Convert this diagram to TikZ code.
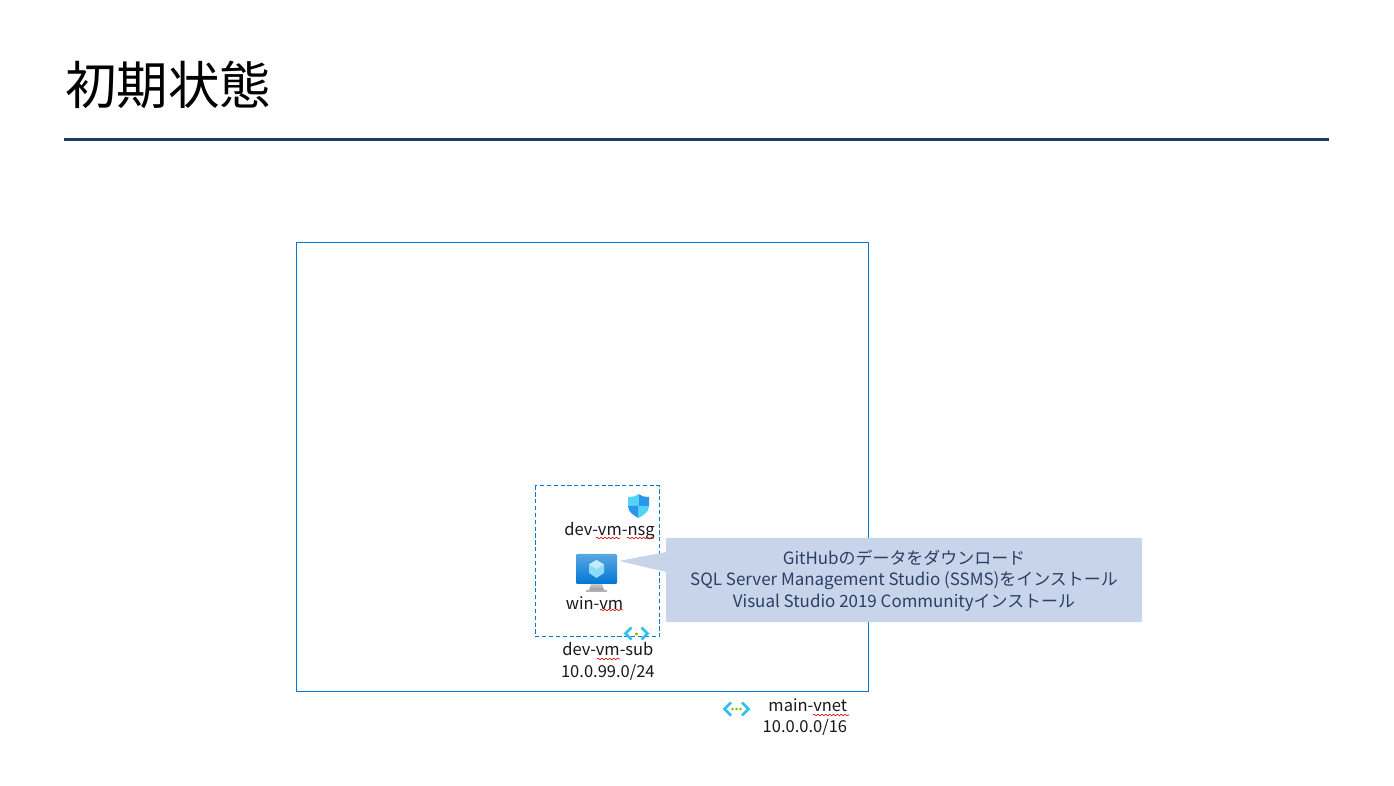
\documentclass[tikz,border=0pt]{standalone}
\usepackage{fontspec}
\setmainfont{Noto Sans CJK JP}
\usetikzlibrary{calc}
\usetikzlibrary{decorations.pathmorphing}
\definecolor{ruleblue}{HTML}{1F3864}
\definecolor{azureblue}{HTML}{0078D4}
\definecolor{calloutfill}{HTML}{C8D4EA}
\definecolor{callouttext}{HTML}{2A3F63}
\definecolor{iconcyan}{HTML}{32BEF0}
\definecolor{shieldlight}{HTML}{50D4FA}
\definecolor{shielddark}{HTML}{2A96EA}
\definecolor{icongreen}{HTML}{7FBA00}
\tikzset{
    label/.style={font=\fontsize{9.4}{12}\selectfont, inner sep=0pt, text=black!90},
    squiggle/.style={red!85!black, line width=0.35pt, decorate, decoration={snake, amplitude=0.45pt, segment length=2.2pt}},
    caret/.style={iconcyan, line width=1.5pt, line cap=butt, line join=miter},
}
\newcommand{\vnetdots}[4]{% center x, center y, half width, half height
    \draw[caret] ({#1-#3+#4}, {#2-#4}) -- ({#1-#3}, #2) -- ({#1-#3+#4}, {#2+#4});
    \draw[caret] ({#1+#3-#4}, {#2-#4}) -- ({#1+#3}, #2) -- ({#1+#3-#4}, {#2+#4});
}
\begin{document}
\begin{tikzpicture}[x=0.02cm, y=-0.02cm, line cap=butt]
    % canvas
    \useasboundingbox (0, 0) rectangle (1394, 786);
    \fill[white] (0, 0) rectangle (1394, 786);

    % title
    \node[anchor=west, inner sep=0pt, font=\fontsize{29.3}{34}\selectfont, text=black] (title) at (65, 85) {初期状態};
    \draw[ruleblue, line width=1.7pt] (64, 139.5) -- (1329, 139.5);

    % frames
    \draw[azureblue, line width=0.6pt] (296.5, 242.5) rectangle (868.5, 691.5);
    \draw[azureblue, line width=0.6pt, dash pattern=on 2.4pt off 1.5pt] (535.5, 485.5) rectangle (659.5, 636.5);

    % callout
    \node[fill=calloutfill, minimum width=476*0.02cm, minimum height=84*0.02cm, inner sep=0pt] (note) at (904, 580) {};
    \coordinate (tip) at (619, 561);
    \fill[calloutfill] (tip) -- (666.5, 552) -- (666.5, 572) -- cycle;
    \node[font=\fontsize{9.65}{12.2}\selectfont, align=center, text=callouttext, inner sep=0pt] (notetext) at (904, 580.7)
        {GitHubのデータをダウンロード\\SQL Server Management Studio (SSMS)をインストール\\Visual Studio 2019 Communityインストール};

    % nsg icon
    \fill[shieldlight] (628, 497) .. controls (631, 497) and (635, 497) .. (638.5, 494) -- (638.5, 506) -- (628, 506) -- cycle;
    \fill[shielddark] (638.5, 494) .. controls (643, 497) and (646, 497) .. (649, 497) -- (649, 506) -- (638.5, 506) -- cycle;
    \fill[shielddark] (628, 506) .. controls (628, 512) and (633, 515) .. (638.5, 518) -- (638.5, 506) -- cycle;
    \fill[shieldlight] (649, 506) .. controls (649, 512) and (644, 515) .. (638.5, 518) -- (638.5, 506) -- cycle;

    % vm icon
    \shade[top color=black!20, bottom color=black!40] (591, 584) -- (602, 584) -- (604, 590) -- (589, 590) -- cycle;
    \fill[black!30] (586, 590) rectangle (607, 592);
    \shade[top color=azureblue!65!white, bottom color=azureblue, rounded corners=0.6pt] (576, 554) rectangle (617, 584);
    \fill[iconcyan!55!white] (596.5, 560) -- (604, 564.5) -- (604, 573) -- (596.5, 578) -- (589, 573) -- (589, 564.5) -- cycle;
    \fill[iconcyan!30!white] (596.5, 560) -- (604, 564.5) -- (596.5, 569) -- (589, 564.5) -- cycle;

    % vnet icons
    \vnetdots{636.5}{633.5}{11}{6}
    \fill[icongreen] (636.5, 634) circle (1.6);
    \vnetdots{736.5}{709}{12}{6.5}
    \foreach \n in {-4, 0, 4}{
        \fill[icongreen] ({736.5+\n}, 709) circle (1.4);
    };

    % labels
    \node[label, anchor=east] (nsglabel) at (655, 531) {dev-vm-nsg};
    \node[label, anchor=center] (vmlabel) at (594.5, 603) {win-vm};
    \node[label, anchor=north east, align=center] (sublabel) at (655, 642.5) {dev-vm-sub\\10.0.99.0/24};
    \node[label, anchor=north east, align=right] (vnetlabel) at (847.5, 698.5) {main-vnet\\10.0.0.0/16};

    % squiggles
    \draw[squiggle] (596, 538) -- (620, 538);
    \draw[squiggle] (627, 538) -- (654, 538);
    \draw[squiggle] (600, 610) -- (623, 610);
    \draw[squiggle] (597, 659) -- (620, 659);
    \draw[squiggle] (813, 715) -- (849, 715);
\end{tikzpicture}
\end{document}
